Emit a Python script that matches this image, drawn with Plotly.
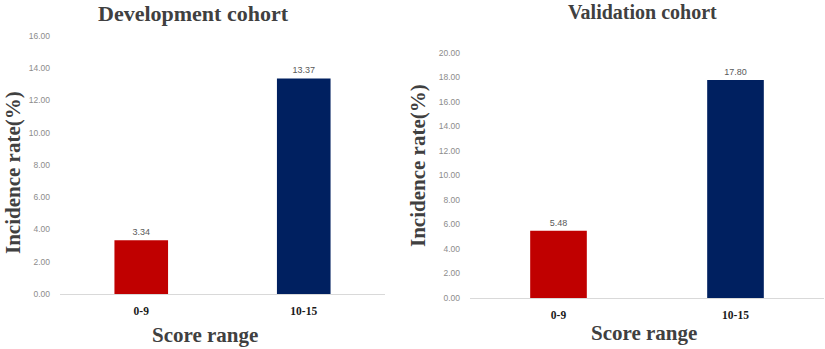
import plotly.graph_objects as go

categories = ["0-9", "10-15"]
dev_values = [3.34, 13.37]
val_values = [5.48, 17.80]
bar_colors = ["#C00000", "#002060"]
dev_ticks = [0, 2, 4, 6, 8, 10, 12, 14, 16]
val_ticks = [0, 2, 4, 6, 8, 10, 12, 14, 16, 18, 20]

W, H = 825, 349
serif = "Liberation Serif, Times New Roman, serif"
sans = "Liberation Sans, Arial, sans-serif"

fig = go.Figure()
fig.add_trace(go.Bar(x=categories, y=dev_values, marker_color=bar_colors, width=0.33,
                     text=[f"{v:.2f}" for v in dev_values], textposition="outside",
                     textfont=dict(family=sans, size=9, color="#595959"),
                     cliponaxis=False, xaxis="x", yaxis="y", showlegend=False))
fig.add_trace(go.Bar(x=categories, y=val_values, marker_color=bar_colors, width=0.32,
                     text=[f"{v:.2f}" for v in val_values], textposition="outside",
                     textfont=dict(family=sans, size=9, color="#595959"),
                     cliponaxis=False, xaxis="x2", yaxis="y2", showlegend=False))

def px(x):
    return x / W

def py(y):
    return 1 - y / H

xcommon = dict(showgrid=False, zeroline=False, showline=True, linecolor="#d9d9d9", linewidth=1,
               ticks="", tickfont=dict(family=serif, size=11.5, color="#1a1a1a", weight="bold"),
               ticklabelstandoff=6, fixedrange=True, automargin=False)
ycommon = dict(showgrid=False, zeroline=False, showline=False, ticks="", tickformat=".2f",
               tickfont=dict(family=sans, size=8.5, color="#8c8c8c"), ticklabelstandoff=9,
               fixedrange=True, automargin=False)

fig.update_layout(
    template=None,
    width=W, height=H,
    margin=dict(l=0, r=0, t=0, b=0, autoexpand=False),
    paper_bgcolor="white", plot_bgcolor="white",
    xaxis=dict(domain=[px(60), px(385)], anchor="y", **xcommon),
    yaxis=dict(domain=[py(294), py(36)], range=[0, 16], tickvals=dev_ticks, anchor="x", **ycommon),
    xaxis2=dict(domain=[px(470), px(824)], anchor="y2", **xcommon),
    yaxis2=dict(domain=[py(298), py(53)], range=[0, 20], tickvals=val_ticks, anchor="x2", **ycommon),
)

axis_font = dict(family=serif, size=21, color="#404040", weight="bold")
annots = [
    dict(text="Development cohort", x=px(193), y=py(13),
         font=dict(family=serif, size=22, color="#404040", weight="bold")),
    dict(text="Validation cohort", x=px(642), y=py(12),
         font=dict(family=serif, size=20, color="#404040", weight="bold")),
    dict(text="Score range", x=px(205), y=py(335), font=axis_font),
    dict(text="Score range", x=px(644), y=py(333), font=axis_font),
    dict(text="Incidence rate(%)", x=px(13), y=py(173), font=axis_font, textangle=-90),
    dict(text="Incidence rate(%)", x=px(418), y=py(166), font=axis_font, textangle=-90),
]
for a in annots:
    fig.add_annotation(xref="paper", yref="paper", showarrow=False,
                       xanchor="center", yanchor="middle", **a)

fig.write_html("out.html", config={"displayModeBar": False},
               post_script="document.body.style.margin='0';document.body.style.overflow='hidden';")
